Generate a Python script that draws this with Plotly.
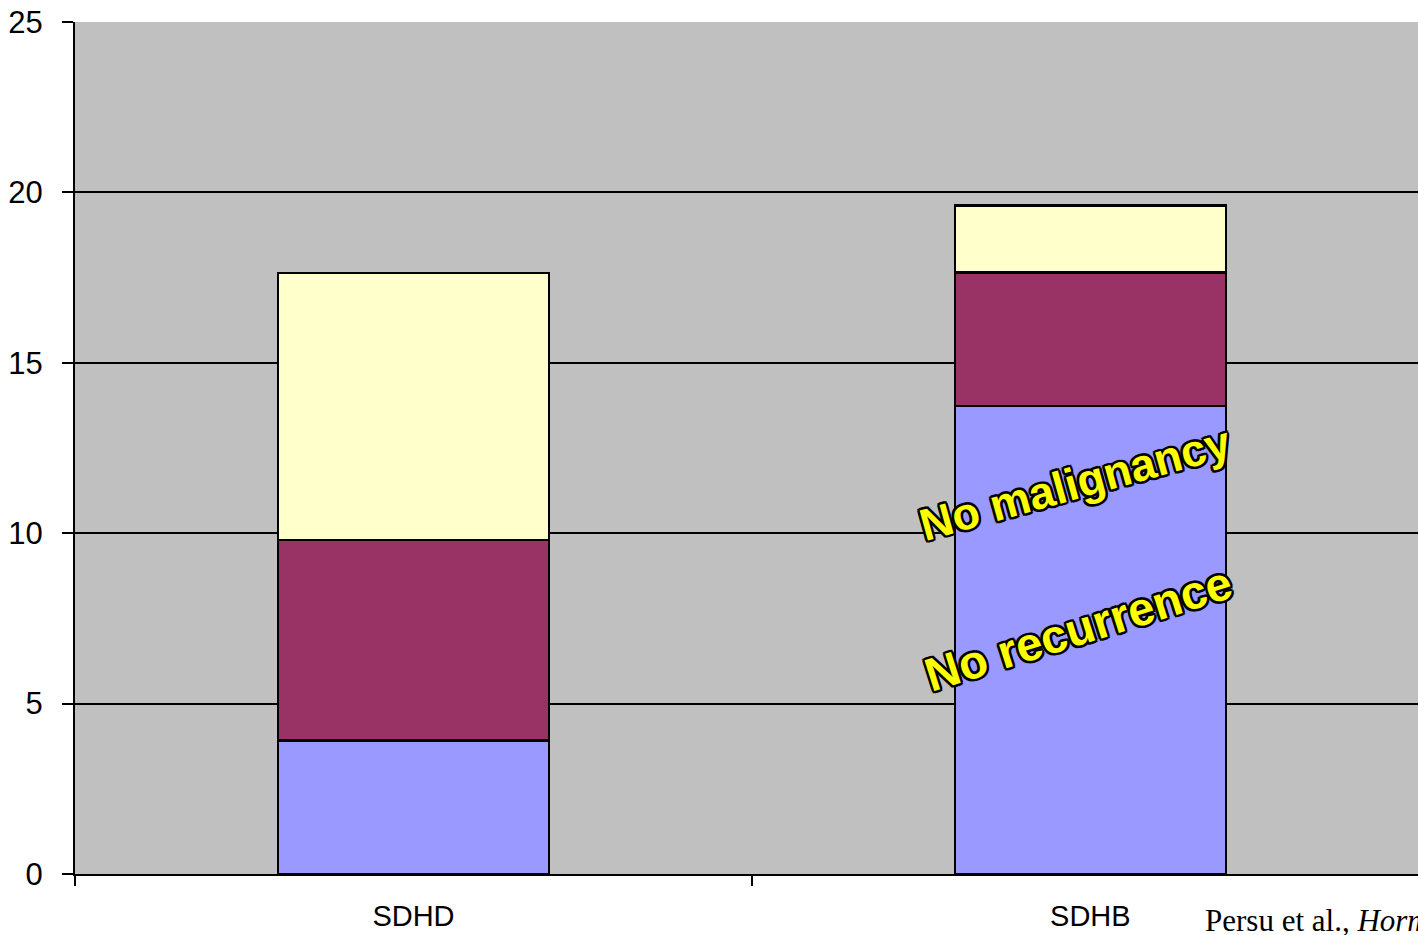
import plotly.graph_objects as go

# Percent of patients by gene and outcome
genes = ["SDHD", "SDHB"]
blue_vals = [3.92, 13.73]
maroon_vals = [5.88, 3.92]
yellow_vals = [7.84, 1.96]
y_ticks = [0, 5, 10, 15, 20, 25]

colors = ["#9999FF", "#993366", "#FFFFCC"]
series = [blue_vals, maroon_vals, yellow_vals]

fig = go.Figure()
for vals, col in zip(series, colors):
    fig.add_trace(go.Bar(
        x=genes, y=vals, width=0.4,
        marker=dict(color=col, line=dict(color="black", width=2.5)),
        showlegend=False,
    ))

outline = ("2.5px 0 0 black, -2.5px 0 0 black, 0 2.5px 0 black, 0 -2.5px 0 black, "
           "2px 2px 0 black, -2px -2px 0 black, 2px -2px 0 black, -2px 2px 0 black")

fig.add_annotation(x=0.977, y=11.45, text="<b>No malignancy</b>", showarrow=False,
                   textangle=-15.5,
                   font=dict(family="Liberation Sans, Arial", size=45,
                             color="#FFFF00", shadow=outline))
fig.add_annotation(x=0.982, y=7.2, text="<b>No recurrence</b>", showarrow=False,
                   textangle=-17.5,
                   font=dict(family="Liberation Sans, Arial", size=47,
                             color="#FFFF00", shadow=outline))

fig.add_annotation(xref="paper", yref="paper", x=(1203 - 75) / 1343, y=-0.054,
                   xanchor="left", yanchor="middle", showarrow=False,
                   text="Persu et al., <i>Horm Metab Res</i>",
                   font=dict(family="Liberation Serif, Times New Roman", size=31, color="black"))

fig.update_layout(
    width=1418, height=935,
    margin=dict(l=75, r=0, t=22, b=61),
    barmode="stack",
    plot_bgcolor="#C0C0C0",
    paper_bgcolor="white",
    font=dict(family="Liberation Sans, Arial", size=29, color="black"),
)
fig.update_xaxes(
    range=[-0.5, 1.484], showline=True, linecolor="black", linewidth=2,
    ticks="outside", tickson="boundaries", ticklen=10, tickwidth=2, tickcolor="black",
    showgrid=False, ticklabelstandoff=15, tickfont=dict(size=29),
)
fig.update_yaxes(
    range=[0, 25], tickvals=y_ticks, showline=True, linecolor="black", linewidth=2,
    ticks="outside", ticklen=11, tickwidth=2, tickcolor="black",
    showgrid=True, gridcolor="black", gridwidth=2, zeroline=False,
    ticklabelstandoff=13, tickfont=dict(size=31),
)

fig.write_html("out.html")
